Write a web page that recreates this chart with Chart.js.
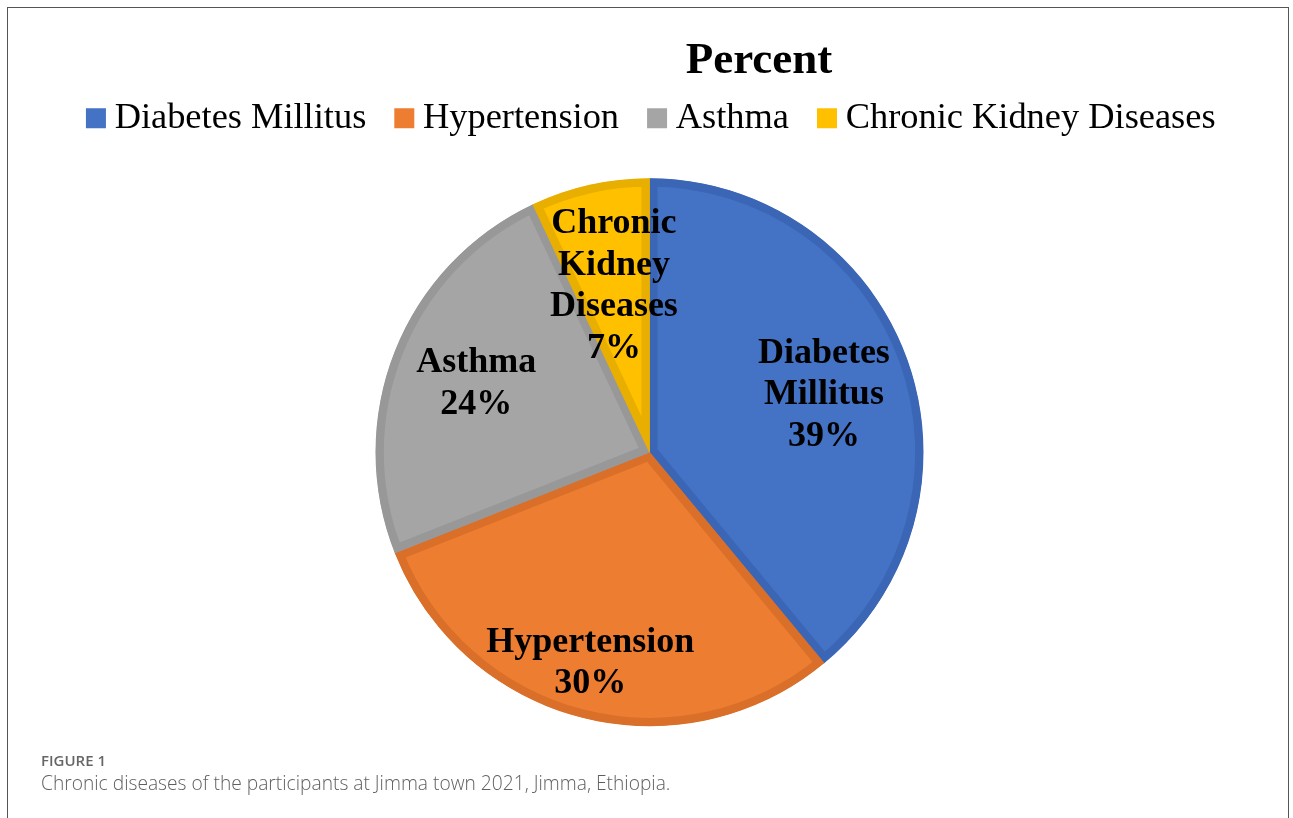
<!DOCTYPE html>
<html>
<head>
<meta charset="utf-8">
<title>Chronic diseases - Jimma 2021</title>
<script src="https://cdn.jsdelivr.net/npm/chart.js@4.4.1/dist/chart.umd.min.js"></script>
<style>
    html, body { margin: 0; padding: 0; background: #fff; }
    #page { position: relative; width: 1293px; height: 818px; overflow: hidden; }
    #frame {
        position: absolute; left: 7px; top: 7px; width: 1282px; height: 900px;
        border: 1.5px solid #555; box-sizing: border-box;
    }
    #chartWrap { position: absolute; left: 0; top: 0; width: 1293px; height: 818px; }
    .fig-label {
        position: absolute; left: 41px; top: 750px;
        font-family: "Open Sans", sans-serif; font-size: 15px; font-weight: 600; color: #666;
    }
    .fig-caption {
        position: absolute; left: 41px; top: 769px;
        font-family: "Open Sans", sans-serif; font-size: 19.2px; font-weight: 300; color: #5f5f5f;
    }
</style>
</head>
<body>
<div id="page">
    <div id="chartWrap"><canvas id="pieChart"></canvas></div>
    <div id="frame"></div>
    <div class="fig-label">FIGURE 1</div>
    <div class="fig-caption">Chronic diseases of the participants at Jimma town 2021, Jimma, Ethiopia.</div>
</div>
<script>
// Chart data
const categories = ['Diabetes Millitus', 'Hypertension', 'Asthma', 'Chronic Kidney Diseases'];
const percentValues = [39, 30, 24, 7];

const fillColors = ['#4472c4', '#ed7d31', '#a5a5a5', '#ffc000'];
const edgeColors = ['#3b66b6', '#d96f29', '#989898', '#e8ae00'];

// Labels inside the slices, Excel style (name words + percent)
const sliceLabels = {
    id: 'sliceLabels',
    afterDatasetsDraw(chart, args, opts) {
        const ctx = chart.ctx;
        const meta = chart.getDatasetMeta(0);
        const total = percentValues.reduce((a, b) => a + b, 0);
        ctx.save();
        ctx.font = opts.font;
        ctx.fillStyle = opts.color;
        ctx.textAlign = 'center';
        ctx.textBaseline = 'middle';
        meta.data.forEach((arc, i) => {
            const p = arc.getProps(['x', 'y', 'startAngle', 'endAngle', 'outerRadius'], true);
            const mid = (p.startAngle + p.endAngle) / 2 + opts.angleShift[i] * Math.PI / 180;
            const r = p.outerRadius * opts.radii[i];
            const cx = p.x + Math.cos(mid) * r;
            const cy = p.y + Math.sin(mid) * r;
            const lines = categories[i].split(' ').concat(Math.round(percentValues[i] / total * 100) + '%');
            lines.forEach((t, j) => {
                ctx.fillText(t, cx, cy + (j - (lines.length - 1) / 2) * opts.lineHeight);
            });
        });
        ctx.restore();
    }
};

// Title (and legend a little) sit right of the pie centre in the original figure
const shiftBlocks = {
    id: 'shiftBlocks',
    afterLayout(chart, args, opts) {
        if (chart.titleBlock) {
            chart.titleBlock.left += opts.titleDx;
            chart.titleBlock.right += opts.titleDx;
        }
        if (chart.legend) {
            chart.legend.left += opts.legendDx;
            chart.legend.right += opts.legendDx;
        }
    }
};

const ctx = document.getElementById('pieChart').getContext('2d');
new Chart(ctx, {
    type: 'pie',
    data: {
        labels: categories,
        datasets: [{
            data: percentValues,
            backgroundColor: fillColors,
            borderColor: edgeColors,
            borderWidth: 8,
            borderAlign: 'inner'
        }]
    },
    options: {
        responsive: true,
        maintainAspectRatio: false,
        animation: false,
        radius: 274,
        layout: { padding: { left: 6, bottom: 60 } },
        plugins: {
            title: {
                display: true,
                text: 'Percent',
                color: '#000',
                font: { family: '"Liberation Serif", "Times New Roman", serif', size: 45, weight: 'bold' },
                padding: { top: 34, bottom: -25.5 }
            },
            legend: {
                position: 'top',
                labels: {
                    color: '#000',
                    font: { family: '"Liberation Serif", "Times New Roman", serif', size: 36.4 },
                    usePointStyle: true,
                    boxWidth: 1,
                    boxHeight: 20,
                    padding: 37.5,
                    generateLabels: function(chart) {
                        const items = Chart.overrides.doughnut.plugins.legend.labels.generateLabels(chart);
                        items.forEach(item => {
                            item.lineWidth = 0;
                            item.pointStyle = 'rect';
                        });
                        return items;
                    }
                }
            },
            tooltip: { enabled: false },
            sliceLabels: {
                font: 'bold 36px "Liberation Serif", "Times New Roman", serif',
                color: '#000',
                lineHeight: 41.5,
                radii: [0.67, 0.8, 0.68, 0.62],
                angleShift: [1.6, 1.3, 0, 0.5]
            },
            shiftBlocks: { titleDx: 109.5, legendDx: 6 }
        }
    },
    plugins: [sliceLabels, shiftBlocks]
});
</script>
</body>
</html>
